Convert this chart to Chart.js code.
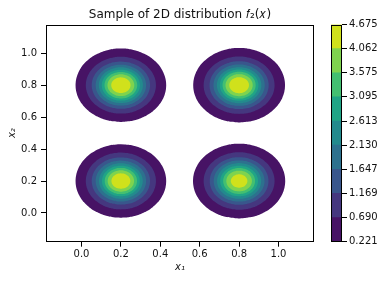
<!DOCTYPE html>
<html>
<head>
<meta charset="utf-8">
<script src="https://cdn.jsdelivr.net/npm/chart.js@4/dist/chart.umd.min.js"></script>
<style>
    html, body { margin: 0; padding: 0; background: #fff; }
    #wrap { position: relative; width: 384px; height: 282px; }
    #mainBox { position: absolute; left: 0; top: 0; width: 384px; height: 282px; }
    #barBox { position: absolute; left: 326px; top: 0; width: 58px; height: 282px; }
</style>
</head>
<body>
<div id="wrap">
    <div id="mainBox"><canvas id="contourChart" width="384" height="282"></canvas></div>
    <div id="barBox"><canvas id="colorBar" width="58" height="282"></canvas></div>
</div>
<script>
// contour levels (colorbar ticks)
const levels = [0.221, 0.690, 1.169, 1.647, 2.130, 2.613, 3.095, 3.575, 4.062, 4.675];
const levelLabels = ['0.221', '0.690', '1.169', '1.647', '2.130', '2.613', '3.095', '3.575', '4.062', '4.675'];

// the four bumps: centres
const centersX = [0.2, 0.8, 0.2, 0.8];
const centersY = [0.8, 0.8, 0.2, 0.2];

// radius of the contour line at each level, per bump
const radiiTopLeft = [0.230, 0.178, 0.148, 0.128, 0.112, 0.097, 0.083, 0.068, 0.049];
const radiiTopRight = [0.233, 0.180, 0.150, 0.130, 0.113, 0.098, 0.084, 0.069, 0.050];
const radiiBottomLeft = [0.230, 0.178, 0.148, 0.128, 0.111, 0.096, 0.082, 0.067, 0.048];
const radiiBottomRight = [0.234, 0.180, 0.149, 0.129, 0.112, 0.096, 0.081, 0.065, 0.042];

const xTicks = [0.0, 0.2, 0.4, 0.6, 0.8, 1.0];
const yTicks = [0.0, 0.2, 0.4, 0.6, 0.8, 1.0];

// viridis colours for the 9 bands
const bandColors = ['#471365', '#45377f', '#39568c', '#2d718e', '#238a8d',
                    '#20a486', '#43bf71', '#7fd34e', '#d0e11c'];

const allRadii = [radiiTopLeft, radiiTopRight, radiiBottomLeft, radiiBottomRight];
const FONT = 'DejaVu Sans';
Chart.defaults.font.family = FONT;
Chart.defaults.color = '#111';

// closed outline of one contour around a bump (starts at the top)
const ring = (cx, cy, r) => {
    const pts = [];
    const n = 72;
    for (let i = 0; i < n; i++) {
        const a = Math.PI / 2 + 2 * Math.PI * i / n;
        pts.push({ x: cx + r * Math.cos(a), y: cy + r * Math.sin(a) });
    }
    return pts;
};

// first dataset is drawn on top, so innermost level goes first
const datasets = [];
for (let k = levels.length - 2; k >= 0; k--) {
    allRadii.forEach((radii, b) => {
        datasets.push({
            data: ring(centersX[b], centersY[b], radii[k]),
            showLine: true,
            fill: 'shape',
            // a bit of tension keeps chart.js off its fast path, which squashes the sides
            tension: 0.2,
            backgroundColor: bandColors[k],
            borderColor: 'rgba(0,0,0,0)',
            borderWidth: 0,
            pointRadius: 0,
            pointHoverRadius: 0
        });
    });
}

// box around the plotting area like matplotlib's spines
const frame = {
    id: 'frame',
    afterDraw(chart) {
        const { ctx, chartArea: a } = chart;
        ctx.save();
        ctx.strokeStyle = '#000';
        ctx.lineWidth = 1;
        ctx.strokeRect(Math.round(a.left) + 0.5, Math.round(a.top) + 0.5,
            Math.round(a.right - a.left) - 1, Math.round(a.bottom - a.top) - 1);
        ctx.restore();
    }
};

const tickFont = { family: FONT, size: 10 };
const labelFont = { family: FONT, size: 10, style: 'italic' };

new Chart(document.getElementById('contourChart'), {
    type: 'scatter',
    data: { datasets },
    options: {
        responsive: false,
        animation: false,
        events: [],
        layout: { padding: { left: 0, right: 70, top: 0, bottom: 0 } },
        plugins: {
            legend: { display: false },
            tooltip: { enabled: false },
            title: {
                display: true,
                fullSize: false,
                text: 'Sample of 2D distribution 𝑓₂(𝑥)',
                font: { family: FONT, size: 12, weight: 'normal' },
                color: '#111',
                padding: { top: 7.5, bottom: 2.6 }
            }
        },
        scales: {
            x: {
                type: 'linear',
                min: -0.18,
                max: 1.18,
                afterBuildTicks: (s) => { s.ticks = xTicks.map(v => ({ value: v })); },
                afterFit: (s) => { s.height = 40.3; },
                ticks: { font: tickFont, padding: 2, maxRotation: 0, callback: v => v.toFixed(1) },
                grid: { drawOnChartArea: false, tickLength: 5, tickColor: '#000' },
                border: { display: false },
                title: { display: true, text: 'x₁', font: labelFont, padding: { top: 0, bottom: 8.3 } }
            },
            y: {
                type: 'linear',
                min: -0.18,
                max: 1.18,
                afterBuildTicks: (s) => { s.ticks = yTicks.map(v => ({ value: v })); },
                afterFit: (s) => { s.width = 46; },
                ticks: { font: tickFont, padding: 4, callback: v => v.toFixed(1) },
                grid: { drawOnChartArea: false, tickLength: 5, tickColor: '#000' },
                border: { display: false },
                title: { display: true, text: 'x₂', font: labelFont, padding: { top: 6, bottom: 0 } }
            }
        }
    },
    plugins: [frame]
});

// colour bar: one stacked bar, one segment per band
const barSets = bandColors.map((c, k) => ({
    data: [1],
    backgroundColor: c,
    borderWidth: 0,
    barPercentage: 1,
    categoryPercentage: 1
}));

new Chart(document.getElementById('colorBar'), {
    type: 'bar',
    data: { labels: [''], datasets: barSets },
    options: {
        responsive: false,
        animation: false,
        events: [],
        layout: { padding: { left: 5, right: 0, top: 24.5, bottom: 40.3 } },
        plugins: { legend: { display: false }, tooltip: { enabled: false } },
        scales: {
            x: { display: false, stacked: true },
            y: {
                position: 'right',
                stacked: true,
                min: 0,
                max: levels.length - 1,
                afterBuildTicks: (s) => { s.ticks = levels.map((v, i) => ({ value: i })); },
                afterFit: (s) => { s.width = 42; },
                ticks: { font: tickFont, padding: 2, callback: (v) => levelLabels[v] },
                grid: { drawOnChartArea: false, tickLength: 5, tickColor: '#000' },
                border: { display: false }
            }
        }
    },
    plugins: [frame]
});
</script>
</body>
</html>
